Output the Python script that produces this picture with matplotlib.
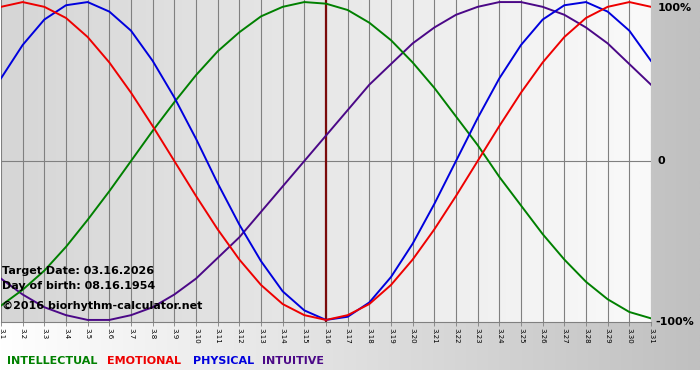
import numpy as np
import matplotlib
matplotlib.use("Agg")
import matplotlib.pyplot as plt

# days of March 2026 shown on the chart
days = list(range(1, 32))
day_labels = ["3.%d" % d for d in days]
target_day = 16

# values, -1 .. 1
physical = [0.52, 0.73, 0.89, 0.98, 1.00, 0.94, 0.82, 0.63, 0.40, 0.14,
            -0.14, -0.40, -0.63, -0.82, -0.94, -1.00, -0.98, -0.89, -0.73, -0.52,
            -0.27, 0.00, 0.27, 0.52, 0.73, 0.89, 0.98, 1.00, 0.94, 0.82, 0.63]
emotional = [0.97, 1.00, 0.97, 0.90, 0.78, 0.62, 0.43, 0.22, 0.00, -0.22,
             -0.43, -0.62, -0.78, -0.90, -0.97, -1.00, -0.97, -0.90, -0.78, -0.62,
             -0.43, -0.22, 0.00, 0.22, 0.43, 0.62, 0.78, 0.90, 0.97, 1.00, 0.97]
intellectual = [-0.91, -0.81, -0.69, -0.54, -0.37, -0.19, 0.00, 0.19, 0.37, 0.54,
                0.69, 0.81, 0.91, 0.97, 1.00, 0.99, 0.95, 0.87, 0.76, 0.62,
                0.46, 0.28, 0.10, -0.10, -0.28, -0.46, -0.62, -0.76, -0.87, -0.95, -0.99]
intuitive = [-0.74, -0.84, -0.92, -0.97, -1.00, -1.00, -0.97, -0.92, -0.84, -0.74,
             -0.61, -0.48, -0.32, -0.16, 0.00, 0.16, 0.32, 0.48, 0.61, 0.74,
             0.84, 0.92, 0.97, 1.00, 1.00, 0.97, 0.92, 0.84, 0.74, 0.61, 0.48]

c_int = "#008000"
c_emo = "#ee0000"
c_phy = "#0000dd"
c_itu = "#4b0887"

W, H = 700, 380


def px(x, y):
    return x / W, 1 - y / H


fig = plt.figure(figsize=(7, 3.8), dpi=100)
fig.patch.set_facecolor("white")

# background band: white on the left fading to grey on the right
bg = fig.add_axes([0, 0, 1, 1], zorder=-5)
bg.set_xlim(0, W)
bg.set_ylim(H, 0)
bg.axis("off")
g = np.linspace(255, 192, 256) / 255.0
band = np.dstack([g, g, g])[0][None, :, :]
bg.imshow(band, extent=(0, W, 370, 0), aspect="auto", interpolation="bilinear")

l, b = px(1, 322)
r, t = px(651, 0)
ax = fig.add_axes([l, b, r - l, t - b])
ax.set_xlim(1, 31)
ax.set_ylim(-1.013, 1.013)

g2 = np.linspace(214, 250, 256) / 255.0
ax.imshow(np.dstack([g2, g2, g2])[0][None, :, :], extent=(1, 31, -1.013, 1.013),
          aspect="auto", interpolation="bilinear", zorder=0)

for d in days:
    ax.axvline(d, color="#808080", lw=0.8, zorder=1)
ax.axhline(0, color="#808080", lw=0.8, zorder=1)
ax.axvline(target_day, color="#7a0a0a", lw=1.6, zorder=2)

ax.plot(days, intuitive, color=c_itu, lw=1.4, zorder=3)
ax.plot(days, intellectual, color=c_int, lw=1.4, zorder=3)
ax.plot(days, physical, color=c_phy, lw=1.4, zorder=3)
ax.plot(days, emotional, color=c_emo, lw=1.4, zorder=3)

ax.set_xticks(days)
ax.set_xticklabels(day_labels, rotation=-90, fontsize=5)
ax.tick_params(axis="x", length=3, width=0.6, color="#808080", pad=1)
ax.set_yticks([])
for s in ["top", "left", "right"]:
    ax.spines[s].set_visible(False)
ax.spines["bottom"].set_color("#808080")
ax.spines["bottom"].set_linewidth(0.8)

# right-hand scale
fig.text(*px(658, 8), "100%", fontsize=8, fontweight="bold", va="center")
fig.text(*px(658, 161), "0", fontsize=8, fontweight="bold", va="center")
fig.text(*px(655, 322), "-100%", fontsize=8, fontweight="bold", va="center")

# info text over the plot
fig.text(*px(2, 271), "Target Date: 03.16.2026", fontsize=8, fontweight="bold",
         va="center", zorder=10)
fig.text(*px(2, 286), "Day of birth: 08.16.1954", fontsize=8, fontweight="bold",
         va="center", zorder=10)
fig.text(*px(2, 306), "\u00a92016 biorhythm-calculator.net", fontsize=8,
         fontweight="bold", va="center", zorder=10)

# legend words
fig.text(*px(7, 361), "INTELLECTUAL", color=c_int, fontsize=8, fontweight="bold", va="center")
fig.text(*px(107, 361), "EMOTIONAL", color=c_emo, fontsize=8, fontweight="bold", va="center")
fig.text(*px(193, 361), "PHYSICAL", color=c_phy, fontsize=8, fontweight="bold", va="center")
fig.text(*px(262, 361), "INTUITIVE", color=c_itu, fontsize=8, fontweight="bold", va="center")

fig.savefig("out.png", dpi=100)
